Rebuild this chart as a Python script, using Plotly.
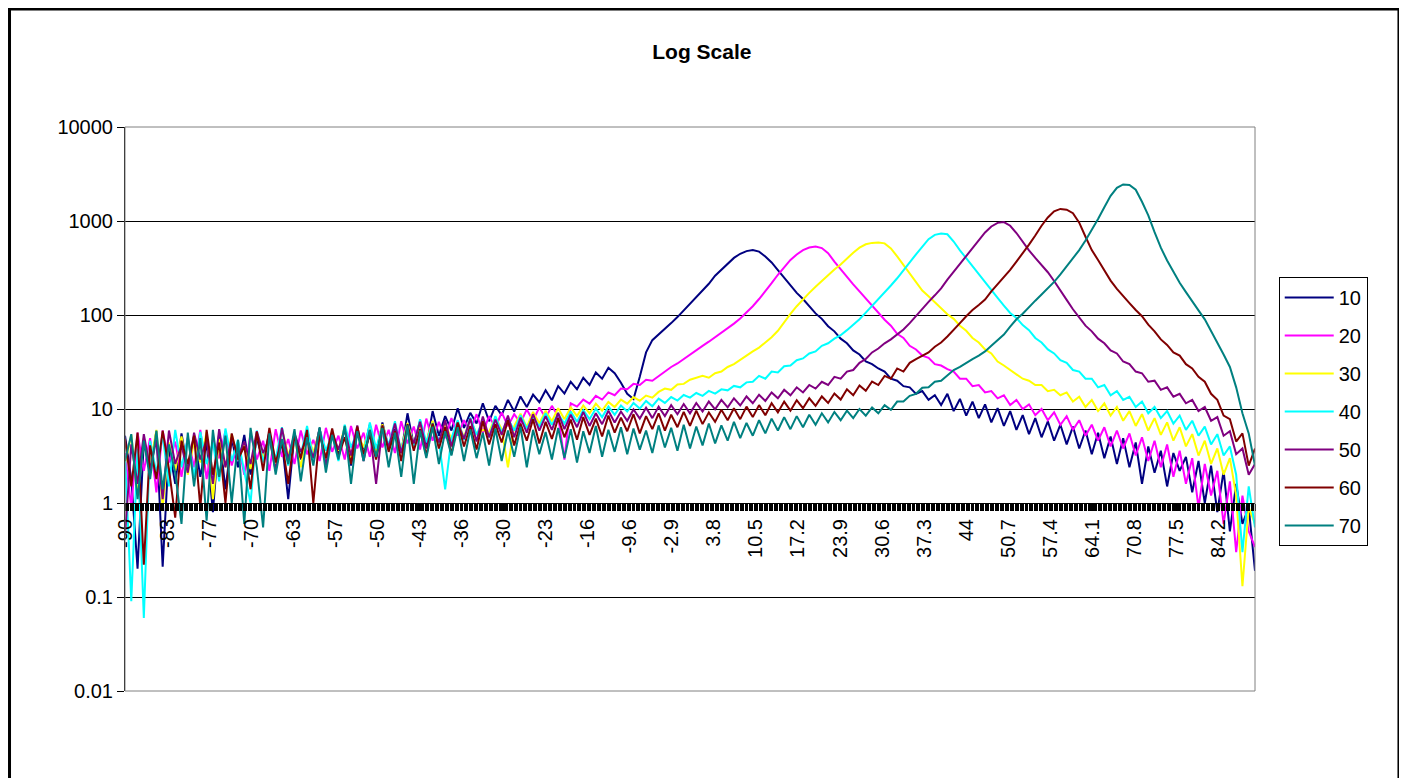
import plotly.graph_objects as go

# ── Data (1-degree steps from -90 to 90) ─────────────────────────────────────

ANGLES = list(range(-90, 91))

S10 = [
    5.2, 1.8, 0.2, 4.6, 2.1, 5.8, 0.21, 3.9, 1.6, 5.5,       # -90
    2.2, 5.1, 1.9, 4.4, 0.8, 5.6, 1.4, 4.8, 2.4, 5.3,        # -80
    2.0, 4.9, 2.8, 5.7, 2.3, 4.5, 1.1, 5.4, 2.9, 6.0,        # -70
    3.1, 6.2, 2.7, 5.5, 3.3, 6.4, 2.5, 5.9, 3.6, 6.8,        # -60
    3.0, 7.2, 3.8, 6.1, 3.4, 9.0, 4.1, 7.5, 3.9, 9.5,        # -50
    5.2, 8.4, 5.9, 10.2, 6.3, 9.1, 7.0, 11.5, 7.4, 10.8,     # -40
    8.6, 12.5, 9.4, 13.6, 10.5, 14.2, 11.8, 15.8, 12.4, 17.5,  # -30
    14.6, 19.5, 16.2, 21.5, 18.0, 24.5, 21.0, 27.5, 24.0, 19.0,  # -20
    14.5, 12.8, 22, 40, 54, 62, 70, 82, 95, 112,             # -10
    130, 152, 180, 215, 262, 305, 355, 405, 448, 478,        # 0
    490, 472, 420, 362, 300, 248, 205, 172, 148, 124,        # 10
    104, 91, 76, 67, 56, 50, 42, 38, 32, 30,                 # 20
    27, 25, 21, 20, 17.5, 17, 14.5, 15.5, 12.5, 14,          # 30
    11.0, 14.5, 9.5, 12.8, 8.5, 12.0, 8.0, 11.2, 7.2, 10.2,  # 40
    6.6, 9.5, 6.0, 8.6, 5.4, 8.0, 5.0, 7.4, 4.6, 6.8,        # 50
    4.2, 6.5, 3.8, 5.9, 3.3, 5.6, 3.0, 5.1, 2.6, 4.9,        # 60
    2.4, 4.4, 1.6, 4.0, 2.1, 3.6, 1.5, 3.4, 2.2, 3.1,        # 70
    1.3, 2.8, 1.0, 2.5, 0.8, 2.2, 0.5, 1.6, 0.6, 0.9,        # 80
    0.19,
]

S20 = [
    3.4, 0.9, 5.6, 2.2, 4.9, 1.3, 5.9, 2.7, 4.5, 1.9,
    5.0, 2.4, 6.0, 1.8, 4.7, 3.0, 5.8, 2.5, 4.4, 2.0,
    5.5, 2.9, 4.6, 2.2, 6.1, 3.1, 4.8, 2.6, 5.9, 3.3,
    4.7, 2.8, 6.3, 3.5, 5.2, 2.9, 6.6, 3.8, 5.6, 3.1,
    6.8, 3.9, 6.0, 3.4, 7.4, 4.3, 6.5, 3.7, 7.9, 4.6,
    7.3, 4.9, 8.0, 5.2, 7.6, 5.8, 8.8, 5.6, 8.4, 6.3,
    9.2, 6.6, 8.8, 7.1, 9.9, 7.5, 10.4, 8.0, 10.8, 8.3,
    2.9, 11.5, 10.6, 12.6, 11.4, 13.8, 12.6, 15.0, 14.0, 16.5,
    16.2, 18.5, 18.0, 20.5, 20.0, 22.5, 25.0, 28.0, 30.5, 34.0,
    38, 43, 47, 52, 58, 64, 72, 81, 92, 106,
    124, 148, 178, 218, 268, 325, 385, 440, 490, 522,
    535, 515, 455, 370, 305, 255, 212, 178, 150, 125,
    106, 89, 77, 63, 57, 47, 43, 37, 35, 30,
    29, 26.5, 25, 21, 21, 17.5, 18, 15, 15.5, 13,
    14, 11, 12.5, 10, 11.2, 8.6, 10, 7.6, 9.2, 6.8,
    8.4, 6.0, 7.6, 5.2, 6.8, 4.6, 6.4, 4.0, 5.9, 3.8,
    5.5, 3.2, 5.0, 2.8, 4.6, 2.4, 4.2, 1.9, 3.6, 1.6,
    3.0, 0.9, 2.6, 1.2, 2.2, 0.6, 1.7, 0.3, 1.2, 0.5,
    0.34,
]

S30 = [
    2.6, 5.3, 1.2, 4.9, 2.5, 6.0, 0.9, 4.4, 2.2, 5.1,
    2.0, 4.6, 2.7, 5.7, 1.1, 4.8, 2.4, 5.4, 2.9, 4.3,
    2.3, 5.6, 3.0, 4.7, 2.6, 6.2, 3.2, 4.9, 2.4, 5.8,
    3.4, 6.0, 2.8, 5.3, 3.6, 6.5, 3.0, 5.5, 3.9, 6.3,
    3.5, 6.9, 4.0, 5.8, 3.7, 7.1, 4.2, 6.4, 4.5, 7.5,
    4.3, 6.9, 4.8, 7.4, 5.0, 7.8, 5.4, 6.0, 5.7, 8.2,
    6.1, 2.4, 6.6, 8.9, 6.4, 9.3, 7.0, 9.6, 7.4, 10.2,
    7.8, 10.4, 8.4, 10.9, 9.0, 11.4, 9.6, 11.9, 10.5, 12.6,
    11.4, 13.4, 12.2, 13.9, 13.2, 15.2, 16.5, 16.0, 18.2, 18.5,
    20.5, 21.5, 22.5, 21.5, 24.0, 25.0, 28.0, 30.0, 33.0, 37.0,
    41, 45, 51, 58, 68, 84, 103, 124, 148, 172,
    200, 232, 268, 305, 345, 400, 460, 520, 565, 585,
    590, 578, 510, 420, 340, 275, 222, 182, 158, 136,
    118, 102, 91, 77, 68, 57, 51, 43, 39, 32,
    29, 26, 23.5, 21, 20, 18, 18, 15.5, 16, 14,
    15, 12, 13.5, 10.5, 12.5, 9.5, 11.5, 8.5, 10.5, 7.5,
    9.5, 6.6, 8.8, 5.9, 8.0, 5.3, 7.2, 4.6, 6.4, 4.0,
    5.4, 3.2, 4.6, 2.6, 3.8, 2.0, 3.0, 1.2, 0.13, 0.9,
    0.6,
]

S40 = [
    3.2, 0.09, 3.8, 0.06, 4.6, 2.1, 5.3, 1.5, 6.0, 2.4,
    4.9, 1.9, 5.7, 2.6, 4.4, 1.7, 6.2, 2.8, 4.7, 2.2,
    1.0, 5.9, 2.7, 5.1, 2.9, 6.4, 2.5, 4.6, 3.2, 6.6,
    2.9, 6.1, 3.6, 5.4, 2.8, 6.8, 3.9, 5.7, 3.3, 7.2,
    3.8, 6.6, 4.1, 7.4, 3.5, 6.9, 4.0, 7.8, 4.4, 7.1,
    4.6, 1.4, 4.9, 7.6, 4.7, 8.1, 5.3, 7.5, 5.0, 8.4,
    5.6, 7.9, 5.9, 8.6, 6.2, 8.2, 6.5, 9.0, 6.8, 8.8,
    7.0, 9.4, 7.3, 9.7, 7.8, 10.1, 8.2, 10.6, 8.7, 10.9,
    9.4, 11.6, 10.1, 12.2, 10.7, 12.9, 11.6, 13.4, 12.3, 14.1,
    13.2, 14.8, 13.8, 15.6, 14.6, 16.2, 15.8, 17.6, 17.0, 19.2,
    19.5, 22.5, 21.0, 25.0, 24.5, 28.5, 29.0, 33.0, 34.5, 39.0,
    41, 47, 50, 56, 61, 69, 79, 90, 106, 125,
    146, 172, 206, 246, 296, 362, 442, 532, 640, 712,
    735, 722, 605, 488, 400, 330, 272, 225, 186, 152,
    126, 105, 93, 78, 69, 57, 51, 43, 39, 33,
    31, 26, 25, 21, 21, 17, 18, 14, 15.5, 12.5,
    13.5, 10.5, 12, 9, 10.5, 8, 9.5, 7, 8.5, 6,
    7.5, 5.2, 6.5, 4.2, 5.4, 3.2, 4.0, 2.0, 0.3, 1.5,
    0.55,
]

S50 = [
    0.45, 4.2, 1.6, 5.4, 2.3, 4.7, 1.1, 5.9, 2.6, 4.1,
    2.1, 5.6, 2.9, 4.8, 1.6, 6.1, 2.4, 5.0, 3.1, 4.5,
    2.6, 5.8, 3.4, 4.9, 2.2, 6.3, 2.9, 5.5, 3.5, 4.8,
    3.0, 6.2, 2.5, 5.6, 3.7, 6.0, 3.2, 6.7, 2.8, 5.9,
    1.6, 6.5, 3.9, 7.0, 3.4, 6.2, 4.3, 7.3, 3.8, 6.8,
    4.4, 7.6, 4.0, 7.1, 4.8, 7.9, 4.5, 8.3, 5.0, 7.7,
    5.3, 8.5, 5.0, 8.1, 5.6, 8.8, 5.9, 8.4, 6.0, 9.1,
    6.1, 8.7, 6.4, 9.3, 6.6, 9.0, 6.9, 9.6, 7.2, 9.4,
    7.5, 9.9, 7.9, 10.3, 8.0, 10.6, 8.4, 11.0, 8.8, 11.3,
    9.0, 11.6, 9.4, 12.0, 9.9, 12.5, 10.4, 13.0, 10.9, 13.6,
    11.5, 14.2, 12.2, 15.0, 13.0, 16.0, 14.0, 17.0, 15.0, 18.0,
    16.5, 19.5, 18.0, 22.0, 21.0, 25.0, 26.0, 31.0, 34.0, 40.0,
    44, 50, 55, 62, 70, 82, 98, 118, 138, 162,
    192, 238, 288, 348, 420, 505, 625, 755, 875, 955,
    975, 890, 745, 600, 488, 405, 340, 285, 230, 180,
    145, 115, 94, 77, 67, 56, 50, 42, 39, 32,
    30, 25, 24, 19.5, 20, 16, 17, 13.5, 14.5, 11.5,
    12.5, 9.5, 10.5, 7.5, 8.2, 5.2, 5.8, 3.3, 3.8, 2.0,
    2.6,
]

S60 = [
    4.8, 1.5, 5.6, 0.22, 4.1, 1.8, 5.9, 2.3, 0.7, 4.6,
    2.6, 5.2, 0.9, 6.0, 2.0, 4.4, 1.0, 5.5, 2.9, 4.0,
    1.4, 5.7, 2.2, 6.3, 2.7, 4.6, 1.6, 5.2, 3.0, 6.0,
    1.0, 5.4, 3.0, 6.2, 3.1, 5.0, 2.6, 6.5, 3.3, 5.3,
    2.9, 6.7, 3.5, 5.8, 2.8, 6.9, 3.6, 6.1, 3.2, 7.0,
    3.8, 6.4, 3.3, 7.2, 4.0, 6.6, 3.7, 7.4, 4.2, 6.9,
    4.4, 7.6, 4.1, 7.0, 4.6, 7.8, 4.3, 7.3, 4.8, 8.0,
    5.0, 7.7, 4.7, 8.2, 5.3, 7.9, 5.1, 8.5, 5.6, 8.1,
    5.8, 8.8, 5.5, 8.4, 6.1, 9.0, 5.9, 8.7, 6.4, 9.3,
    6.6, 9.6, 6.9, 9.2, 7.3, 9.8, 7.6, 10.2, 7.8, 10.6,
    8.2, 11.0, 8.6, 11.5, 9.2, 12.0, 9.6, 12.4, 10.2, 13.0,
    10.8, 13.6, 11.6, 14.6, 12.6, 16.2, 14.0, 17.8, 15.6, 19.6,
    18.0, 22.5, 21.0, 27.0, 25.0, 31.0, 34.0, 37.0, 40.0, 46.0,
    51, 59, 69, 82, 97, 113, 128, 146, 178, 212,
    252, 302, 370, 450, 560, 700, 890, 1090, 1270, 1345,
    1320, 1210, 960, 680, 490, 385, 300, 232, 190, 158,
    134, 113, 97, 79, 67, 55, 48, 40, 37, 30,
    27, 22, 19.5, 14.5, 12.5, 8.5, 7.8, 4.5, 5.5, 2.5,
    3.8,
]

S70 = [
    2.8, 5.4, 1.1, 4.6, 1.8, 5.9, 1.4, 4.2, 2.1, 0.6,
    5.6, 1.5, 4.9, 0.65, 6.0, 1.9, 5.2, 1.0, 4.7, 0.6,
    6.3, 2.4, 0.55, 5.5, 2.0, 4.8, 2.6, 6.1, 1.7, 5.0,
    2.5, 6.4, 2.1, 5.3, 2.9, 6.6, 1.6, 5.8, 2.8, 6.0,
    3.1, 6.3, 2.4, 5.6, 1.9, 6.7, 1.6, 5.9, 3.0, 6.5,
    2.6, 5.8, 3.2, 6.4, 2.8, 6.1, 3.0, 5.6, 2.5, 6.2,
    2.8, 5.9, 3.1, 6.5, 2.4, 6.0, 3.3, 5.7, 2.9, 6.3,
    3.0, 6.1, 2.7, 5.8, 3.4, 6.6, 3.1, 6.0, 3.5, 6.4,
    3.3, 6.2, 3.7, 5.9, 3.4, 6.7, 3.9, 6.3, 3.6, 6.8,
    3.8, 6.5, 4.1, 7.0, 4.3, 6.7, 4.6, 7.3, 4.9, 7.1,
    5.2, 7.6, 5.5, 7.9, 5.9, 8.2, 6.1, 8.4, 6.4, 8.7,
    6.8, 9.0, 7.2, 9.3, 7.6, 9.6, 8.0, 10.0, 8.5, 10.4,
    9.0, 11.0, 9.8, 12.0, 12.0, 13.8, 14.5, 16.8, 17.0, 19.5,
    20, 23, 26, 28, 31, 34, 37, 41, 47, 54,
    62, 75, 90, 103, 122, 142, 165, 192, 225, 270,
    330, 400, 490, 620, 800, 1050, 1400, 1850, 2250, 2450,
    2420, 2150, 1600, 1150, 760, 520, 380, 285, 220, 175,
    142, 112, 90, 68, 50, 38, 28, 17, 9, 5.5,
    2.5,
]

SERIES_NAMES = ['10', '20', '30', '40', '50', '60', '70']
SERIES_VALUES = [S10, S20, S30, S40, S50, S60, S70]
SERIES_COLORS = ['#000080', '#FF00FF', '#FFFF00', '#00FFFF', '#800080', '#800000', '#008080']

X_TICK_VALS = [-90, -83.3, -76.6, -69.9, -63.2, -56.5, -49.8, -43.1, -36.4, -29.7,
               -23, -16.3, -9.6, -2.9, 3.8, 10.5, 17.2, 23.9, 30.6, 37.3,
               44, 50.7, 57.4, 64.1, 70.8, 77.5, 84.2]
X_TICK_TEXT = ['-90', '-83', '-77', '-70', '-63', '-57', '-50', '-43', '-36', '-30',
               '-23', '-16', '-9.6', '-2.9', '3.8', '10.5', '17.2', '23.9', '30.6', '37.3',
               '44', '50.7', '57.4', '64.1', '70.8', '77.5', '84.2']

Y_TICK_VALS = [0.01, 0.1, 1, 10, 100, 1000, 10000]
Y_TICK_TEXT = ['0.01', '0.1', '1', '10', '100', '1000', '10000']

# ── Figure ────────────────────────────────────────────────────────────────────
# the page body keeps its default 8px margin, so the figure starts at (8, 8)

FONT = 'Liberation Sans, Arial, sans-serif'

fig = go.Figure()
for name, vals, color in zip(SERIES_NAMES, SERIES_VALUES, SERIES_COLORS):
    assert len(vals) == len(ANGLES), name
    fig.add_trace(go.Scatter(
        x=ANGLES, y=vals, mode='lines', name=name, legendgroup=name,
        line=dict(color=color, width=2),
    ))

fig.update_layout(
    width=1399, height=770,
    margin=dict(l=117, r=152, t=119, b=87),
    paper_bgcolor='white', plot_bgcolor='white',
    font=dict(family=FONT, size=20, color='black'),
    title=dict(text='<b>Log Scale</b>', x=0.496, xref='container', xanchor='center',
               y=0.943, yref='container', yanchor='middle',
               font=dict(family=FONT, size=21, color='black')),
    legend=dict(x=1.021, y=0.734, xanchor='left', yanchor='top',
                bordercolor='black', borderwidth=1, bgcolor='white',
                font=dict(family=FONT, size=20, color='black'),
                itemwidth=49, traceorder='grouped', tracegroupgap=9),
    showlegend=True,
)

fig.update_xaxes(
    range=[-90, 90], anchor='free', position=1 / 3,
    tickmode='array', tickvals=X_TICK_VALS, ticktext=X_TICK_TEXT, tickangle=-90,
    ticks='outside', ticklen=7, tickcolor='black', tickwidth=1,
    tickfont=dict(family=FONT, size=20, color='black'),
    showline=True, linecolor='black', linewidth=1,
    showgrid=False, zeroline=False,
    minor=dict(dtick=0.2, tick0=-90, ticks='outside', ticklen=7,
               tickcolor='black', tickwidth=1, showgrid=False),
)
fig.update_yaxes(
    type='log', range=[-2, 4],
    tickmode='array', tickvals=Y_TICK_VALS, ticktext=Y_TICK_TEXT,
    ticks='outside', ticklen=7, tickcolor='black', tickwidth=1,
    tickfont=dict(family=FONT, size=20, color='black'),
    showline=True, linecolor='black', linewidth=1,
    showgrid=True, gridcolor='black', gridwidth=1, zeroline=False,
)

# plot-area frame (grey) and chart-area frame (black)
fig.add_shape(type='rect', xref='paper', yref='paper', x0=0, x1=1, y0=0, y1=1,
              line=dict(color='#808080', width=1), layer='above')
fig.add_shape(type='rect', xref='paper', yref='paper',
              x0=-0.1022, x1=1.1274, y0=-0.2, y1=1.2092,
              line=dict(color='black', width=3), layer='above')

fig.write_html('out.html')
